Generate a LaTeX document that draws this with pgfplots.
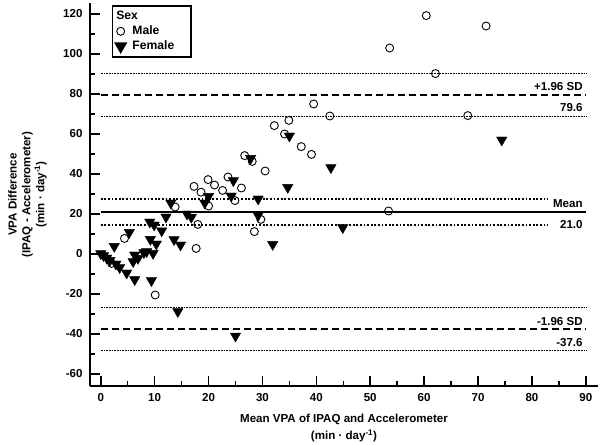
\documentclass[border=0pt]{standalone}
\usepackage{pgfplots}
\pgfplotsset{compat=1.18}
\usepackage{fontspec}
\setmainfont{Liberation Sans}
\newcommand\cf{\fontsize{11.6}{14}\selectfont\bfseries}

\begin{document}
\begin{tikzpicture}
\path[use as bounding box] (-90bp,-59bp) rectangle (510bp,386bp);
\begin{axis}[
  at={(0,0)}, anchor=south west,
  scale only axis, width=508bp, height=383bp,
  xmin=-2, xmax=92.26, ymin=-66, ymax=125.5,
  clip=false,
  axis lines*=left,
  axis line style={line width=2bp},
  tick align=inside,
  major tick length=10bp, minor tick length=5bp,
  every major tick/.append style={black, line width=1.6bp},
  every minor tick/.append style={black, line width=1.4bp},
  xtick={0,10,...,90}, ytick={-60,-40,...,120},
  minor xtick={5,15,...,85}, minor ytick={-50,-30,...,110},
  tick label style={font=\cf},
  /pgf/number format/assume math mode=true,
  xticklabel style={yshift=-4bp},
  yticklabel style={xshift=-4bp},
  xlabel={Mean VPA of IPAQ and Accelerometer\\(min \textperiodcentered{} day\textsuperscript{-1})},
  xlabel style={at={(axis description cs:0.5,0)}, anchor=north, yshift=-28bp,
    inner sep=0pt, align=center, font=\fontsize{11.6}{17}\selectfont\bfseries},
  ylabel={VPA Difference\\(IPAQ - Accelerometer)\\(min \textperiodcentered{} day\textsuperscript{-1})},
  ylabel style={at={(axis description cs:-0.0846,0.5)}, anchor=south,
    inner sep=0pt, align=center, font=\fontsize{11.6}{14}\selectfont\bfseries},
  legend style={at={(axis description cs:0.0427,0.9948)}, anchor=north west,
    draw=black, line width=1.6bp, font=\fontsize{12.2}{14}\selectfont\bfseries,
    inner xsep=3bp, inner ysep=3bp,
    row sep=0bp, column sep=5bp,
    nodes={inner sep=1.5bp, text height=9bp, text depth=3bp}},
  legend cell align=left,
  legend image code/.code={\draw[#1] plot coordinates {(0bp,0bp)};},
]

% reference lines: mean, limits of agreement and their confidence bands
\addplot[forget plot, line width=2bp] coordinates {(0,21.0) (90,21.0)};
\addplot[forget plot, line width=2bp, dash pattern=on 7bp off 4bp] coordinates {(0,79.6) (90,79.6)};
\addplot[forget plot, line width=2bp, dash pattern=on 7bp off 4bp] coordinates {(0,-37.6) (90,-37.6)};
\addplot[forget plot, line width=1.8bp, dash pattern=on 1.8bp off 1.8bp] coordinates {(0,27.4) (83,27.4)};
\addplot[forget plot, line width=1.8bp, dash pattern=on 1.8bp off 1.8bp] coordinates {(0,14.6) (83,14.6)};
\addplot[forget plot, line width=0.8bp, dash pattern=on 0.8bp off 0.8bp] coordinates {(0,90.3) (90,90.3)};
\addplot[forget plot, line width=0.8bp, dash pattern=on 0.8bp off 0.8bp] coordinates {(0,68.9) (90,68.9)};
\addplot[forget plot, line width=0.8bp, dash pattern=on 0.8bp off 0.8bp] coordinates {(0,-26.9) (90,-26.9)};
\addplot[forget plot, line width=0.8bp, dash pattern=on 0.8bp off 0.8bp] coordinates {(0,-48.3) (90,-48.3)};

\node[anchor=base east, font=\cf, inner sep=0pt] at ([xshift=-3bp,yshift=4bp]axis cs:90,79.6) {+1.96 SD};
\node[anchor=base east, font=\cf, inner sep=0pt] at ([xshift=-3bp,yshift=-17bp]axis cs:90,79.6) {79.6};
\node[anchor=base east, font=\cf, inner sep=0pt] at ([xshift=-3bp,yshift=4bp]axis cs:90,21.0) {Mean};
\node[anchor=base east, font=\cf, inner sep=0pt] at ([xshift=-3bp,yshift=-17bp]axis cs:90,21.0) {21.0};
\node[anchor=base east, font=\cf, inner sep=0pt] at ([xshift=-3bp,yshift=4bp]axis cs:90,-37.6) {-1.96 SD};
\node[anchor=base east, font=\cf, inner sep=0pt] at ([xshift=-3bp,yshift=-17bp]axis cs:90,-37.6) {-37.6};

\addlegendimage{empty legend}
\addlegendentry{\hspace*{-16bp}Sex}

% Male
\addplot[only marks, mark=o, mark size=4bp, mark options={line width=0.9bp, fill=white, draw=black}]
coordinates {
(53.6,103) (60.4,119.2) (71.5,114) (62.1,90.2) (68.1,69.2) (53.4,21.5)
(39.5,75) (42.5,69) (32.2,64.2) (34.9,66.8) (34.1,60) (37.2,53.7)
(39.1,49.8) (26.7,49.2) (28.1,46.3) (30.5,41.5) (19.9,37.2) (21.1,34.5)
(23.6,38.5) (22.6,31.8) (26.1,33) (18.6,30.9) (17.3,33.8) (24.9,26.7)
(20.0,24) (29.7,17.3) (28.5,11.2) (18.0,14.8) (13.8,23.5) (17.7,2.8)
(4.4,7.8) (2.0,-4.7) (10.1,-20.5)
};
\addlegendentry{Male}

% Female
\addplot[only marks, mark=triangle*, mark size=6bp, mark options={rotate=180, fill=black, draw=black}]
coordinates {
(74.4,57) (35.0,59) (42.7,43.2) (27.8,47.8) (34.7,33.3) (24.6,36.7)
(20.0,28.8) (24.2,29) (19.3,25.5) (29.2,27.5) (29.2,19.3) (31.9,4.8)
(44.9,13.2) (13.0,25.5) (12.1,18.5) (16.0,20) (16.8,18.4) (9.1,16)
(9.9,14.5) (11.3,11.6) (9.2,7.3) (10.3,5) (13.6,7.2) (14.8,4.5)
(5.3,10.8) (2.5,3.8) (0.0,0.2) (0.5,-0.8) (1.1,-2) (1.7,-3.2)
(2.8,-5) (3.5,-6.8) (4.8,-9.5) (6.3,-12.8) (9.4,-13.3) (14.3,-28.8)
(25.0,-41) (6.3,-0.5) (6.0,-3.8) (6.9,-2.2) (8.0,0.7) (8.5,1.2) (9.7,0.3)
};
\addlegendentry{Female\hspace*{12bp}}

\end{axis}
\end{tikzpicture}
\end{document}
